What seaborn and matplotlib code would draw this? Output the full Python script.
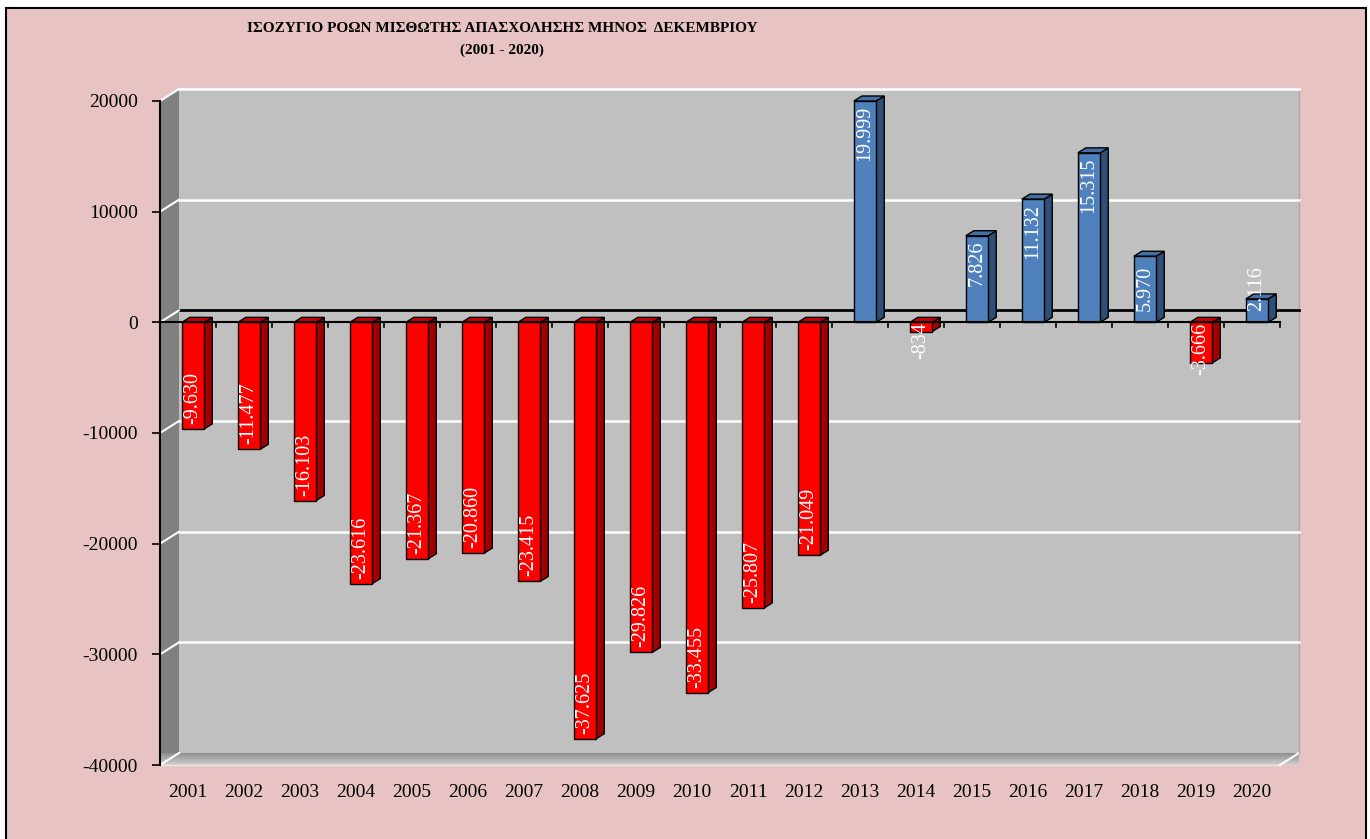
import matplotlib
matplotlib.use('Agg')
import matplotlib.pyplot as plt
import matplotlib.patches as mpatches
import numpy as np
import pandas as pd
import seaborn as sns

YEARS = [str(y) for y in range(2001, 2021)]
VALUES = [-9630, -11477, -16103, -23616, -21367, -20860, -23415, -37625, -29826, -33455,
          -25807, -21049, 19999, -834, 7826, 11132, 15315, 5970, -3666, 2116]
Y_TICKS = [-40000, -30000, -20000, -10000, 0, 10000, 20000]
TITLE = 'ΙΣΟΖΥΓΙΟ ΡΟΩΝ ΜΙΣΘΩΤΗΣ ΑΠΑΣΧΟΛΗΣΗΣ ΜΗΝΟΣ  ΔΕΚΕΜΒΡΙΟΥ'
SUBTITLE = '(2001 - 2020)'

PINK = '#E8C3C4'
WALL = '#C0C0C0'
SIDE_WALL = '#808080'
FACES = {
    'neg': ('#FF0000', '#A30000', '#C40000'),   # front, side, top
    'pos': ('#4F81BD', '#2E4F78', '#4470A5'),
}
WALL_PX = (19, 12)   # depth of the walls, pixels
BAR_PX = (8, 5)      # depth of each bar, pixels
BAR_SHIFT = 0.09     # front face offset inside the category
SERIF = ['Liberation Serif', 'DejaVu Serif']


def main():
    plt.rcParams['axes.unicode_minus'] = False
    plt.rcParams['font.family'] = SERIF
    W, H = 1370, 839
    fig = plt.figure(figsize=(W / 100, H / 100), dpi=100, facecolor='white')
    fig.patches.append(mpatches.Rectangle((6 / W, -0.02), 1360 / W, 1.02 - 8 / H, transform=fig.transFigure,
                                          facecolor=PINK, edgecolor='black', linewidth=1.5, zorder=-10))
    ax = fig.add_axes([160 / W, 74 / H, 1120 / W, 664 / H])
    ax.set_facecolor('none')

    df = pd.DataFrame({'year': YEARS, 'value': VALUES})
    df['sign'] = np.where(df['value'] < 0, 'neg', 'pos')
    sns.barplot(ax=ax, data=df, x='year', y='value', hue='sign', palette={k: v[0] for k, v in FACES.items()},
                dodge=False, width=0.4, saturation=1, edgecolor='black', linewidth=1, legend=False, zorder=3)
    bars = [p for p in ax.patches if np.isfinite(p.get_height()) and p.get_height() != 0]

    x0, x1 = -0.5, len(YEARS) - 0.5
    y0, y1 = Y_TICKS[0], Y_TICKS[-1]
    ax.set_xlim(x0, x1)
    ax.set_ylim(y0, y1)
    ux = (x1 - x0) / ax.bbox.width
    uy = (y1 - y0) / ax.bbox.height
    wdx, wdy = WALL_PX[0] * ux, WALL_PX[1] * uy
    bdx, bdy = BAR_PX[0] * ux, BAR_PX[1] * uy

    # walls
    ax.add_patch(mpatches.Rectangle((x0 + wdx, y0 + wdy), x1 - x0, y1 - y0, facecolor=WALL, edgecolor='none',
                                    zorder=0, clip_on=False))
    ax.add_patch(mpatches.Polygon([(x0, y0), (x0, y1), (x0 + wdx, y1 + wdy), (x0 + wdx, y0 + wdy)],
                                  facecolor=SIDE_WALL, edgecolor='none', zorder=0.1, clip_on=False))
    floor = mpatches.Polygon([(x0, y0), (x1, y0), (x1 + wdx, y0 + wdy), (x0 + wdx, y0 + wdy)],
                             facecolor='none', edgecolor='none', zorder=0.2, clip_on=False)
    ax.add_patch(floor)
    grad = np.linspace(0, 1, 50).reshape(-1, 1)
    im = ax.imshow(grad, cmap=matplotlib.colors.LinearSegmentedColormap.from_list('f', ['#D0D0D0', '#8E8E8E']),
                   extent=(x0, x1 + wdx, y0, y0 + wdy), aspect='auto', origin='lower', zorder=0.2, clip_on=False)
    im.set_clip_path(floor)
    ax.plot([x0, x1], [y0, y0], color='#E8E8E8', lw=1, zorder=0.3, clip_on=False)
    ax.plot([x1, x1 + wdx], [y0, y0 + wdy], color='white', lw=1.5, zorder=0.3, clip_on=False)
    ax.plot([x1 + wdx, x1 + wdx], [y0 + wdy, y1 + wdy], color='#A8A8A8', lw=1, zorder=0.3, clip_on=False)
    for t in Y_TICKS[1:]:
        if t == 0:
            ax.plot([x0 + wdx, x1 + wdx], [wdy, wdy], color='black', lw=2, zorder=0.5, clip_on=False)
            ax.plot([x0, x0 + wdx], [0, wdy], color='white', lw=1.5, zorder=0.5, clip_on=False)
        else:
            ax.plot([x0 + wdx, x1 + wdx], [t + wdy, t + wdy], color='white', lw=1.8, zorder=0.5, clip_on=False)
            ax.plot([x0, x0 + wdx], [t, t + wdy], color='white', lw=1.5, zorder=0.5, clip_on=False)
    ax.plot([x0, x0 + wdx], [y0, y0 + wdy], color='white', lw=1.5, zorder=0.5, clip_on=False)

    # 3d bars and labels
    for p in bars:
        p.set_x(p.get_x() + BAR_SHIFT)
        bx0, w = p.get_x(), p.get_width()
        bx1 = bx0 + w
        v = p.get_y() + p.get_height()
        lo, hi = min(0, v), max(0, v)
        key = 'neg' if v < 0 else 'pos'
        _, side, top = FACES[key]
        ax.add_patch(mpatches.Polygon([(bx1, lo), (bx1, hi), (bx1 + bdx, hi + bdy), (bx1 + bdx, lo + bdy)],
                                      facecolor=side, edgecolor='black', lw=1, zorder=2.9, clip_on=False))
        ax.add_patch(mpatches.Polygon([(bx0, hi), (bx1, hi), (bx1 + bdx, hi + bdy), (bx0 + bdx, hi + bdy)],
                                      facecolor=top, edgecolor='black', lw=1, zorder=2.9, clip_on=False))
        label = f'{int(v):,}'.replace(',', '.')
        cx = bx0 + w / 2
        if abs(v) > 6000:
            if v < 0:
                ax.text(cx, v + 5 * uy, label, rotation=90, ha='center', va='bottom', color='white',
                        fontsize=14.5, zorder=5)
            else:
                ax.text(cx, v - 5 * uy, label, rotation=90, ha='center', va='top', color='white',
                        fontsize=14.5, zorder=5)
        elif v < 0:
            ax.text(cx, 0, label, rotation=90, ha='center', va='top', color='white', fontsize=14.5, zorder=5)
        else:
            ax.text(cx, 11 * uy, label, rotation=90, ha='center', va='bottom', color='white', fontsize=14.5,
                    zorder=5)

    # front zero axis with category ticks
    ax.plot([x0, x1], [0, 0], color='black', lw=1.5, zorder=4, clip_on=False)
    for k in range(1, len(YEARS) + 1):
        ax.plot([x0 + k, x0 + k], [0, -5 * uy], color='black', lw=1.2, zorder=4, clip_on=False)

    for s in ['top', 'right', 'bottom']:
        ax.spines[s].set_visible(False)
    ax.spines['left'].set_linewidth(1.5)
    ax.spines['left'].set_zorder(4)
    ax.set_yticks(Y_TICKS)
    ax.set_yticklabels([str(t) for t in Y_TICKS])
    ax.tick_params(axis='y', length=6, width=1.2, pad=10, labelsize=14)
    ax.tick_params(axis='x', length=0, pad=14, labelsize=14)
    ax.set_xlabel('')
    ax.set_ylabel('')

    fig.text(502 / W, 1 - 28 / H, TITLE, ha='center', va='center', fontsize=11, fontweight='bold')
    fig.text(502 / W, 1 - 50 / H, SUBTITLE, ha='center', va='center', fontsize=11, fontweight='bold')

    fig.savefig('out.png', dpi=100, facecolor=fig.get_facecolor())


if __name__ == '__main__':
    main()
